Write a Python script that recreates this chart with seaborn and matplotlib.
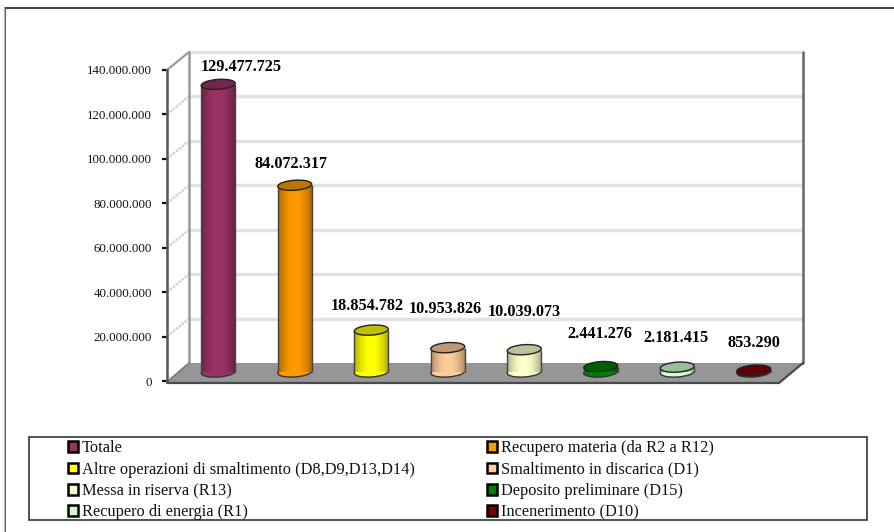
import matplotlib
matplotlib.use("Agg")
import matplotlib.pyplot as plt
import numpy as np
import pandas as pd
import seaborn as sns
from matplotlib.lines import Line2D
from matplotlib.patches import Ellipse, Patch, Polygon, Rectangle
from matplotlib.transforms import Affine2D, IdentityTransform

# Waste management totals by treatment route
categories = [
    "Totale",
    "Recupero materia (da R2 a R12)",
    "Altre operazioni di smaltimento (D8,D9,D13,D14)",
    "Smaltimento in discarica (D1)",
    "Messa in riserva (R13)",
    "Deposito preliminare (D15)",
    "Recupero di energia (R1)",
    "Incenerimento (D10)",
]
values = [129477725, 84072317, 18854782, 10953826, 10039073, 2441276, 2181415, 853290]
colors = ["#993366", "#FF9900", "#FFFF00", "#FFCC99", "#FFFFCC", "#008000", "#CCFFCC", "#800000"]
y_ticks = [0, 20000000, 40000000, 60000000, 80000000, 100000000, 120000000, 140000000]

# Pixel offsets of each value label from the top of its column
label_offsets = [(36, 26), (9, 30), (9, 33), (10, 48), (13, 47), (12, 42), (12, 38), (13, 36)]


def dotted(n):
    return f"{n:,}".replace(",", ".")


W, H = 894, 532
sns.set_theme(style="white")
plt.rcParams["font.family"] = ["Liberation Serif", "DejaVu Serif"]

fig = plt.figure(figsize=(W / 100, H / 100), dpi=100, facecolor="white")

# Outer chart frame: only the left and top edges fall inside the canvas
fig.add_artist(Line2D([5 / W, 5 / W, 1], [0, 1 - 8 / H, 1 - 8 / H], color="#333333", lw=1.3))
fig.add_artist(Line2D([3.6 / W, 3.6 / W], [0, 1 - 8 / H], color="#bbbbbb", lw=1.0))

# Front plane of the plot box: x 167..779 px, zero at y=381, 140M at y=70
ax = fig.add_axes([167 / W, 1 - 381 / H, 612 / W, 311 / H])
ax.patch.set_alpha(0)
df = pd.DataFrame({"categoria": categories, "valore": values})
sns.barplot(
    data=df, x="categoria", y="valore", hue="categoria", palette=colors,
    order=categories, hue_order=categories, legend=False, width=0.444,
    saturation=1, ax=ax, zorder=5, edgecolor="none",
)
ax.set_xlim(-0.5, 7.5)
ax.set_ylim(0, 140000000)
ax.set_xlabel("")
ax.set_ylabel("")
ax.set_xticks([])
ax.set_yticks(y_ticks)
ax.set_yticklabels([dotted(t) for t in y_ticks], fontsize=9.3, color="#111111")
ax.tick_params(axis="y", left=True, length=3.8, width=1.6, color="#111111", pad=7)
for side in ("top", "right", "bottom"):
    ax.spines[side].set_visible(False)
ax.spines["left"].set_color("#555555")
ax.spines["left"].set_linewidth(1.8)

to_px = ax.transData.transform
identity = IdentityTransform()
DEPTH_X, DEPTH_Y = 22, 18       # wall offset behind the front plane
COL_X, COL_Y = 13, 9            # column offset inside the depth
col_shift = ax.transData + Affine2D().translate(COL_X, COL_Y)
x0_px, y0_px = to_px((-0.5, 0))
x1_px, y1_px = to_px((7.5, 140000000))


def draw_px(artist):
    artist.set_transform(identity)
    artist.set_clip_on(False)
    ax.add_artist(artist)
    return artist


# Floor slab
draw_px(Polygon(
    [(x0_px, y0_px - 2), (x1_px, y0_px - 2), (x1_px + 24, y0_px + DEPTH_Y),
     (x0_px + DEPTH_X, y0_px + DEPTH_Y)],
    closed=True, facecolor="#969696", edgecolor="none", zorder=1,
))
draw_px(Line2D([x0_px, x1_px, x1_px + 24], [y0_px - 2, y0_px - 2, y0_px + DEPTH_Y],
               color="#4a4a4a", lw=1.6, zorder=2))

# Back wall gridlines and side wall diagonals
for t in y_ticks:
    px, py = to_px((-0.5, t))
    if t > 0:
        draw_px(Line2D([px + DEPTH_X, x1_px + 24], [py + DEPTH_Y, py + DEPTH_Y],
                       color="#e2e2e2", lw=2.4, zorder=1))
        draw_px(Line2D([px, px + DEPTH_X], [py, py + DEPTH_Y], color="#d0d0d0",
                       lw=1.6, ls=(0, (1.2, 0.5)), zorder=1))
draw_px(Line2D([x0_px, x0_px + DEPTH_X], [y0_px - 1, y0_px + DEPTH_Y], color="#777777", lw=1.2, zorder=2))
draw_px(Line2D([x0_px + DEPTH_X] * 2, [y0_px + DEPTH_Y, y1_px + DEPTH_Y], color="#999999", lw=1.8, zorder=1))
draw_px(Line2D([x1_px + 24] * 2, [y0_px + DEPTH_Y, y1_px + DEPTH_Y], color="#666666", lw=1.8, zorder=1))
draw_px(Line2D([x0_px, x0_px + DEPTH_X], [y1_px, y1_px + DEPTH_Y], color="#999999", lw=1.5, zorder=1))

# Cylindrical columns: body shading, base and lid ellipses
shade = np.abs(np.linspace(-1, 1, 64))[None, :] ** 2
shade_rgba = np.zeros((1, 64, 4))
shade_rgba[..., 3] = 0.32 * shade
ELL_W, ELL_H, TILT = 34, 10, 4
half = 0.222
for i, (patch, v, c) in enumerate(zip(ax.patches, values, colors)):
    patch.set_transform(col_shift)
    patch.set_zorder(5)
    px, py = to_px((i, 0))
    base = Ellipse((px + COL_X, py + COL_Y), ELL_W, ELL_H, angle=TILT, facecolor=c,
                   edgecolor="#333333", lw=1.0, zorder=4)
    draw_px(base)
    im = ax.imshow(shade_rgba, extent=(i - half, i + half, 0, v), aspect="auto", zorder=6)
    im.set_transform(col_shift)
    ax.vlines([i - half, i + half], 0, v, colors="#444444", lw=1.0, zorder=7, transform=col_shift)
    tx, ty = to_px((i, v))
    lid_rgb = np.array(matplotlib.colors.to_rgb(c)) * 0.75
    draw_px(Ellipse((tx + COL_X, ty + COL_Y), ELL_W, ELL_H, angle=TILT, facecolor=lid_rgb,
                    edgecolor="#222222", lw=1.0, zorder=8))
    ax.annotate(dotted(v), xy=(i, v), xytext=label_offsets[i], textcoords="offset pixels",
                ha="center", va="center", fontsize=11.7, fontweight="bold",
                color="black", zorder=10, annotation_clip=False)
ax.set_xlim(-0.5, 7.5)
ax.set_ylim(0, 140000000)

# Legend box with the inner legend laid out in two columns
fig.add_artist(Rectangle((29 / W, 1 - 520 / H), 838 / W, 83 / H, transform=fig.transFigure,
                         facecolor="white", edgecolor="#222222", lw=1.1))
handles = [Patch(facecolor=c, edgecolor="black", lw=1.8) for c in colors]
# Matplotlib fills columns first, so this order reads row by row on the page
order = [0, 2, 4, 6, 1, 3, 5, 7]
leg = fig.legend(
    [handles[i] for i in order], [categories[i] for i in order], ncol=2,
    loc="upper left", bbox_to_anchor=(68 / W, 1 - 440.5 / H), frameon=False,
    fontsize=11.8, labelcolor="#111111", handlelength=0.62, handleheight=0.62,
    handletextpad=0.24, columnspacing=4.39, labelspacing=0.32, borderpad=0,
    borderaxespad=0,
)

fig.savefig("out.png", dpi=100, facecolor="white")
